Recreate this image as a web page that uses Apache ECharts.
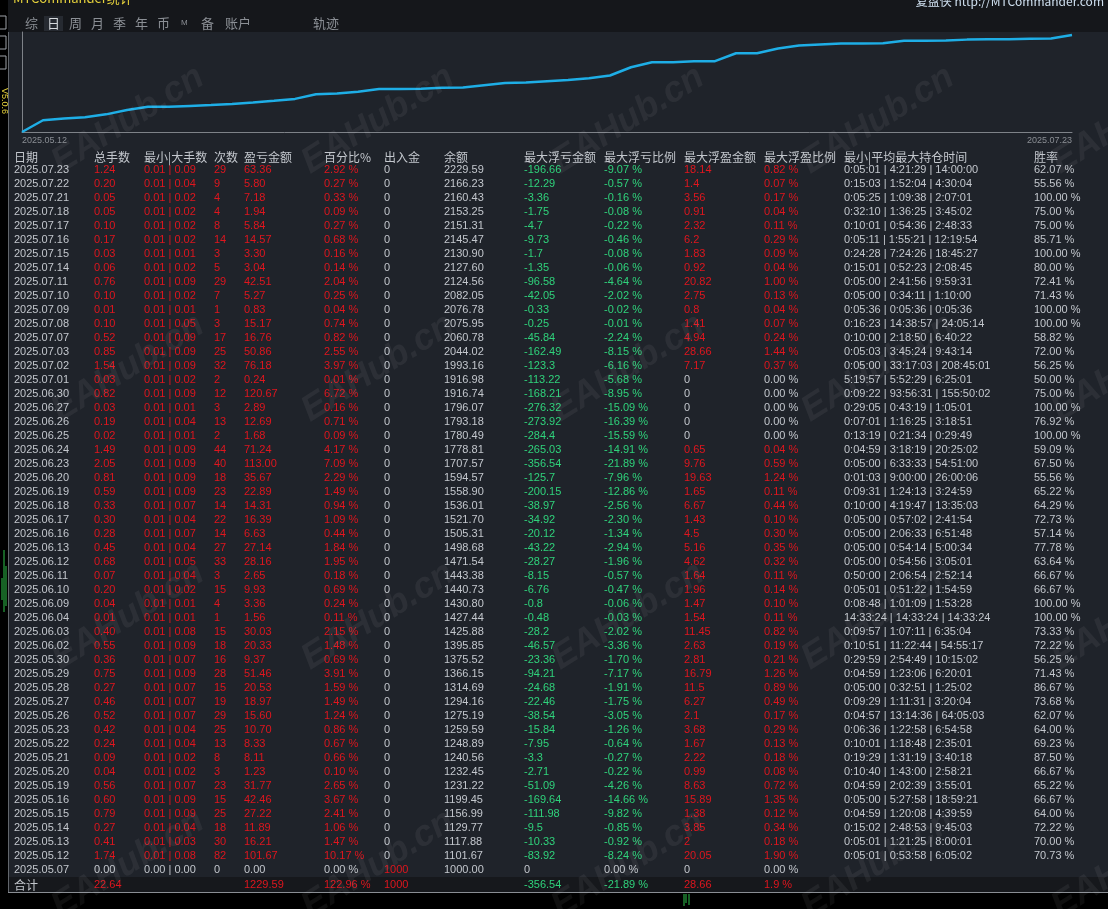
<!DOCTYPE html>
<html>
<head>
<meta charset="utf-8">
<title>MTCommander统计</title>
<script src="https://cdn.jsdelivr.net/npm/echarts@6.0.0/dist/echarts.min.js"></script>
<style>
html, body { margin: 0; padding: 0; background: #000; }
#main { width: 1108px; height: 909px; }
</style>
</head>
<body>
<div id="main"></div>
<script>
// 表格数据（按显示顺序，最新在上）
var dates = ['2025.07.23','2025.07.22','2025.07.21','2025.07.18','2025.07.17','2025.07.16','2025.07.15','2025.07.14','2025.07.11','2025.07.10','2025.07.09','2025.07.08','2025.07.07','2025.07.03','2025.07.02','2025.07.01','2025.06.30','2025.06.27','2025.06.26','2025.06.25','2025.06.24','2025.06.23','2025.06.20','2025.06.19','2025.06.18','2025.06.17','2025.06.16','2025.06.13','2025.06.12','2025.06.11','2025.06.10','2025.06.09','2025.06.04','2025.06.03','2025.06.02','2025.05.30','2025.05.29','2025.05.28','2025.05.27','2025.05.26','2025.05.23','2025.05.22','2025.05.21','2025.05.20','2025.05.19','2025.05.16','2025.05.15','2025.05.14','2025.05.13','2025.05.12','2025.05.07'];
var lots = ['1.24','0.20','0.05','0.05','0.10','0.17','0.03','0.06','0.76','0.10','0.01','0.10','0.52','0.85','1.54','0.03','0.82','0.03','0.19','0.02','1.49','2.05','0.81','0.59','0.33','0.30','0.28','0.45','0.68','0.07','0.20','0.04','0.01','0.40','0.55','0.36','0.75','0.27','0.46','0.52','0.42','0.24','0.09','0.04','0.56','0.60','0.79','0.27','0.41','1.74','0.00'];
var minLot = ['0.01','0.01','0.01','0.01','0.01','0.01','0.01','0.01','0.01','0.01','0.01','0.01','0.01','0.01','0.01','0.01','0.01','0.01','0.01','0.01','0.01','0.01','0.01','0.01','0.01','0.01','0.01','0.01','0.01','0.01','0.01','0.01','0.01','0.01','0.01','0.01','0.01','0.01','0.01','0.01','0.01','0.01','0.01','0.01','0.01','0.01','0.01','0.01','0.01','0.01','0.00'];
var maxLot = ['0.09','0.04','0.02','0.02','0.02','0.02','0.01','0.02','0.09','0.02','0.01','0.05','0.09','0.09','0.09','0.02','0.09','0.01','0.04','0.01','0.09','0.09','0.09','0.09','0.07','0.04','0.07','0.04','0.05','0.04','0.02','0.01','0.01','0.08','0.09','0.07','0.09','0.07','0.07','0.07','0.04','0.04','0.02','0.02','0.07','0.09','0.09','0.04','0.03','0.08','0.00'];
var counts = [29,9,4,4,8,14,3,5,29,7,1,3,17,25,32,2,12,3,13,2,44,40,18,23,14,22,14,27,33,3,15,4,1,15,18,16,28,15,19,29,25,13,8,3,23,15,25,18,30,82,0];
var profit = ['63.36','5.80','7.18','1.94','5.84','14.57','3.30','3.04','42.51','5.27','0.83','15.17','16.76','50.86','76.18','0.24','120.67','2.89','12.69','1.68','71.24','113.00','35.67','22.89','14.31','16.39','6.63','27.14','28.16','2.65','9.93','3.36','1.56','30.03','20.33','9.37','51.46','20.53','18.97','15.60','10.70','8.33','8.11','1.23','31.77','42.46','27.22','11.89','16.21','101.67','0.00'];
var pct = ['2.92','0.27','0.33','0.09','0.27','0.68','0.16','0.14','2.04','0.25','0.04','0.74','0.82','2.55','3.97','0.01','6.72','0.16','0.71','0.09','4.17','7.09','2.29','1.49','0.94','1.09','0.44','1.84','1.95','0.18','0.69','0.24','0.11','2.15','1.48','0.69','3.91','1.59','1.49','1.24','0.86','0.67','0.66','0.10','2.65','3.67','2.41','1.06','1.47','10.17','0.00'];
var deposit = [0,0,0,0,0,0,0,0,0,0,0,0,0,0,0,0,0,0,0,0,0,0,0,0,0,0,0,0,0,0,0,0,0,0,0,0,0,0,0,0,0,0,0,0,0,0,0,0,0,0,1000];
var balance = [2229.59,2166.23,2160.43,2153.25,2151.31,2145.47,2130.90,2127.60,2124.56,2082.05,2076.78,2075.95,2060.78,2044.02,1993.16,1916.98,1916.74,1796.07,1793.18,1780.49,1778.81,1707.57,1594.57,1558.90,1536.01,1521.70,1505.31,1498.68,1471.54,1443.38,1440.73,1430.80,1427.44,1425.88,1395.85,1375.52,1366.15,1314.69,1294.16,1275.19,1259.59,1248.89,1240.56,1232.45,1231.22,1199.45,1156.99,1129.77,1117.88,1101.67,1000.00];
var ddAmt = ['-196.66','-12.29','-3.36','-1.75','-4.7','-9.73','-1.7','-1.35','-96.58','-42.05','-0.33','-0.25','-45.84','-162.49','-123.3','-113.22','-168.21','-276.32','-273.92','-284.4','-265.03','-356.54','-125.7','-200.15','-38.97','-34.92','-20.12','-43.22','-28.27','-8.15','-6.76','-0.8','-0.48','-28.2','-46.57','-23.36','-94.21','-24.68','-22.46','-38.54','-15.84','-7.95','-3.3','-2.71','-51.09','-169.64','-111.98','-9.5','-10.33','-83.92','0'];
var ddPct = ['-9.07','-0.57','-0.16','-0.08','-0.22','-0.46','-0.08','-0.06','-4.64','-2.02','-0.02','-0.01','-2.24','-8.15','-6.16','-5.68','-8.95','-15.09','-16.39','-15.59','-14.91','-21.89','-7.96','-12.86','-2.56','-2.30','-1.34','-2.94','-1.96','-0.57','-0.47','-0.06','-0.03','-2.02','-3.36','-1.70','-7.17','-1.91','-1.75','-3.05','-1.26','-0.64','-0.27','-0.22','-4.26','-14.66','-9.82','-0.85','-0.92','-8.24','0.00'];
var fpAmt = ['18.14','1.4','3.56','0.91','2.32','6.2','1.83','0.92','20.82','2.75','0.8','1.41','4.94','28.66','7.17','0','0','0','0','0','0.65','9.76','19.63','1.65','6.67','1.43','4.5','5.16','4.62','1.64','1.96','1.47','1.54','11.45','2.63','2.81','16.79','11.5','6.27','2.1','3.68','1.67','2.22','0.99','8.63','15.89','1.38','3.85','2','20.05','0'];
var fpPct = ['0.82','0.07','0.17','0.04','0.11','0.29','0.09','0.04','1.00','0.13','0.04','0.07','0.24','1.44','0.37','0.00','0.00','0.00','0.00','0.00','0.04','0.59','1.24','0.11','0.44','0.10','0.30','0.35','0.32','0.11','0.14','0.10','0.11','0.82','0.19','0.21','1.26','0.89','0.49','0.17','0.29','0.13','0.18','0.08','0.72','1.35','0.12','0.34','0.18','1.90','0.00'];
var holdTimes = ['0:05:01 | 4:21:29 | 14:00:00','0:15:03 | 1:52:04 | 4:30:04','0:05:25 | 1:09:38 | 2:07:01','0:32:10 | 1:36:25 | 3:45:02','0:10:01 | 0:54:36 | 2:48:33','0:05:11 | 1:55:21 | 12:19:54','0:24:28 | 7:24:26 | 18:45:27','0:15:01 | 0:52:23 | 2:08:45','0:05:00 | 2:41:56 | 9:59:31','0:05:00 | 0:34:11 | 1:10:00','0:05:36 | 0:05:36 | 0:05:36','0:16:23 | 14:38:57 | 24:05:14','0:10:00 | 2:18:50 | 6:40:22','0:05:03 | 3:45:24 | 9:43:14','0:05:00 | 33:17:03 | 208:45:01','5:19:57 | 5:52:29 | 6:25:01','0:09:22 | 93:56:31 | 155:50:02','0:29:05 | 0:43:19 | 1:05:01','0:07:01 | 1:16:25 | 3:18:51','0:13:19 | 0:21:34 | 0:29:49','0:04:59 | 3:18:19 | 20:25:02','0:05:00 | 6:33:33 | 54:51:00','0:01:03 | 9:00:00 | 26:00:06','0:09:31 | 1:24:13 | 3:24:59','0:10:00 | 4:19:47 | 13:35:03','0:05:00 | 0:57:02 | 2:41:54','0:05:00 | 2:06:33 | 6:51:48','0:05:00 | 0:54:14 | 5:00:34','0:05:00 | 0:54:56 | 3:05:01','0:50:00 | 2:06:54 | 2:52:14','0:05:01 | 0:51:22 | 1:54:59','0:08:48 | 1:01:09 | 1:53:28','14:33:24 | 14:33:24 | 14:33:24','0:09:57 | 1:07:11 | 6:35:04','0:10:51 | 11:22:44 | 54:55:17','0:29:59 | 2:54:49 | 10:15:02','0:04:59 | 1:23:06 | 6:20:01','0:05:00 | 0:32:51 | 1:25:02','0:09:29 | 1:11:31 | 3:20:04','0:04:57 | 13:14:36 | 64:05:03','0:06:36 | 1:22:58 | 6:54:58','0:10:01 | 1:18:48 | 2:35:01','0:19:29 | 1:31:19 | 3:40:18','0:10:40 | 1:43:00 | 2:58:21','0:04:59 | 2:02:39 | 3:55:01','0:05:00 | 5:27:58 | 18:59:21','0:04:59 | 1:20:08 | 4:39:59','0:15:02 | 2:48:53 | 9:45:03','0:05:01 | 1:21:25 | 8:00:01','0:05:01 | 0:53:58 | 6:05:02',''];
var winRate = ['62.07','55.56','100.00','75.00','75.00','85.71','100.00','80.00','72.41','71.43','100.00','100.00','58.82','72.00','56.25','50.00','75.00','100.00','76.92','100.00','59.09','67.50','55.56','65.22','64.29','72.73','57.14','77.78','63.64','66.67','66.67','100.00','100.00','73.33','72.22','56.25','71.43','86.67','73.68','62.07','64.00','69.23','87.50','66.67','65.22','66.67','64.00','72.22','70.00','70.73',''];

var headers = ['日期','总手数','最小|大手数','次数','盈亏金额','百分比%','出入金','余额','最大浮亏金额','最大浮亏比例','最大浮盈金额','最大浮盈比例','最小|平均最大持仓时间','胜率'];
var totalsRow = ['合计','22.64','','','1229.59','122.96 %','1000','','-356.54','-21.89 %','28.66','1.9 %','',''];
var tabs = ['综','日','周','月','季','年','币','M','备','账户','轨迹'];
var axisEndLabels = ['2025.05.12','2025.07.23'];
var titleText = 'MTCommander统计';
var siteText = '复盘侠 http://MTCommander.com';

// 布局与样式
var C_GREY = '#c3c7cd', C_RED = '#df161e', C_GREEN = '#2fd27b';
var NUM_FONT = '11px "Liberation Sans", Arial, sans-serif';
var CJK_FONT = '12px "Noto Sans CJK SC", sans-serif';
var colX = [14, 94, 144, 214, 244, 324, 384, 444, 524, 604, 684, 764, 844, 1034];
var colTone = [C_GREY, C_RED, C_RED, C_RED, C_RED, C_RED, C_RED, C_GREY, C_GREEN, C_GREEN, C_RED, C_RED, C_GREY, C_GREY];
var tabX = [25, 47, 69, 91, 113, 135, 157, 181, 201, 225, 313];
var rowY0 = 170, rowH = 14, headY = 157, totalY = 885;

function pctText(v) { return v === '' ? '' : v + ' %'; }

var columns = [
	dates,
	lots,
	minLot.map(function (v, i) { return v + ' | ' + maxLot[i]; }),
	counts.map(String),
	profit,
	pct.map(pctText),
	deposit.map(String),
	balance.map(function (v) { return v.toFixed(2); }),
	ddAmt,
	ddPct.map(pctText),
	fpAmt,
	fpPct.map(pctText),
	holdTimes,
	winRate.map(pctText)
];

// 有色列中数值为零时显示灰色
function cellColor(c, txt) {
	if (colTone[c] !== C_GREY && parseFloat(txt) === 0) return C_GREY;
	return colTone[c];
}

function txt(x, y, text, font, fill, extra) {
	var el = {
		type: 'text', x: x, y: y, silent: true,
		style: { text: text, font: font, fill: fill, align: 'left', verticalAlign: 'middle' }
	};
	if (extra) for (var k in extra) el.style[k] = extra[k];
	return el;
}

var g = [];
// 背景块
g.push({ type: 'rect', shape: { x: 0, y: 0, width: 1108, height: 32 }, style: { fill: '#15171b' }, silent: true });
g.push({ type: 'rect', shape: { x: 0, y: 0, width: 8, height: 909 }, style: { fill: '#000' }, silent: true });
g.push({ type: 'rect', shape: { x: 0, y: 892, width: 1108, height: 17 }, style: { fill: '#000' }, silent: true });
g.push({ type: 'rect', shape: { x: 8, y: 877, width: 1100, height: 15 }, style: { fill: '#16181c' }, silent: true });
g.push({ type: 'line', shape: { x1: 8.5, y1: 32, x2: 8.5, y2: 892 }, style: { stroke: '#62666c', lineWidth: 1 }, silent: true });
g.push({ type: 'line', shape: { x1: 8, y1: 892.5, x2: 1108, y2: 892.5 }, style: { stroke: '#8a8e94', lineWidth: 1 }, silent: true });
g.push({ type: 'rect', shape: { x: 44, y: 16, width: 19, height: 15 }, style: { fill: '#262a31' }, silent: true });

// 左侧工具栏
[16, 36, 56].forEach(function (y) {
	g.push({ type: 'rect', shape: { x: -4, y: y, width: 10, height: 13 }, style: { fill: 'none', stroke: '#9ea2a8', lineWidth: 1 }, silent: true });
});
g.push({ type: 'text', x: 4, y: 101, rotation: -Math.PI / 2, silent: true,
	style: { text: 'V5.0.6', font: '9px "Liberation Sans", Arial', fill: '#e6d23c', align: 'center', verticalAlign: 'middle' } });
[[2, 578, 600], [4, 550, 612], [6, 566, 606]].forEach(function (l) {
	g.push({ type: 'line', shape: { x1: l[0], y1: l[1], x2: l[0], y2: l[2] }, style: { stroke: '#2fc24a', lineWidth: 1 }, silent: true });
});
[[684, 894, 906], [686, 894, 903], [689, 894, 905]].forEach(function (l) {
	g.push({ type: 'line', shape: { x1: l[0], y1: l[1], x2: l[0], y2: l[2] }, style: { stroke: '#2fc24a', lineWidth: 1 }, silent: true });
});

// 标题与页签
g.push(txt(13, -2, titleText, '13px "Noto Sans CJK SC", sans-serif', '#e6d23c'));
g.push(txt(1104, 1, siteText, '12px "Noto Sans CJK SC", sans-serif', '#cfe0f0', { align: 'right' }));
tabs.forEach(function (t, i) {
	var font = t === 'M' ? '8px "Liberation Sans", Arial' : '13px "Noto Sans CJK SC", sans-serif';
	g.push(txt(tabX[i], 23, t, font, t === '日' ? '#d6dade' : '#8b8f95'));
});

// 表头
headers.forEach(function (h, c) {
	g.push(txt(colX[c], headY, h, CJK_FONT, C_GREY));
});

// 表格行
for (var r = 0; r < dates.length; r++) {
	for (var c = 0; c < columns.length; c++) {
		var t = columns[c][r];
		if (t === '') continue;
		g.push(txt(colX[c], rowY0 + r * rowH, t, NUM_FONT, cellColor(c, t)));
	}
}

// 合计
totalsRow.forEach(function (t, c) {
	if (t === '') return;
	g.push(txt(colX[c], totalY, t, c === 0 ? CJK_FONT : NUM_FONT, cellColor(c, t)));
});

// 水印
for (var wy = 0; wy < 4; wy++) {
	for (var wx = 0; wx < 5; wx++) {
		g.push({ type: 'text', x: 128 + wx * 250, y: 120 + wy * 248, rotation: 32 * Math.PI / 180, silent: true, z: 100,
			style: { text: 'EAHub.cn', font: 'italic bold 36px "Liberation Sans", Arial', fill: 'rgba(255,255,255,0.06)', align: 'center', verticalAlign: 'middle' } });
	}
}

// 净值曲线（时间正序）
var lineDates = dates.slice().reverse();
var lineBalance = balance.slice().reverse();
var last = lineDates.length - 1;

var myChart = echarts.init(document.getElementById('main'));
myChart.setOption({
	backgroundColor: '#1f232a',
	animation: false,
	grid: { left: 22, right: 36, top: 32, bottom: 777 },
	xAxis: {
		type: 'category',
		data: lineDates,
		boundaryGap: false,
		axisLine: { lineStyle: { color: '#7e8288', width: 1 } },
		axisTick: { show: false },
		splitLine: { show: false },
		axisLabel: {
			interval: function (i) { return i === 0 || i === last; },
			formatter: function (v, i) { return i === 0 ? axisEndLabels[0] : axisEndLabels[1]; },
			showMinLabel: true,
			showMaxLabel: true,
			alignMinLabel: 'left',
			alignMaxLabel: 'right',
			color: '#8a8e94',
			fontSize: 9,
			fontFamily: 'Liberation Sans',
			margin: 4
		}
	},
	yAxis: {
		type: 'log',
		min: 1000,
		max: 2285,
		axisLine: { show: true, lineStyle: { color: '#7e8288', width: 1 } },
		axisTick: { show: false },
		axisLabel: { show: false },
		splitLine: { show: false }
	},
	series: [{
		type: 'line',
		data: lineBalance,
		showSymbol: false,
		lineStyle: { color: '#1eaee6', width: 2.5 }
	}],
	graphic: g
});
</script>
</body>
</html>
